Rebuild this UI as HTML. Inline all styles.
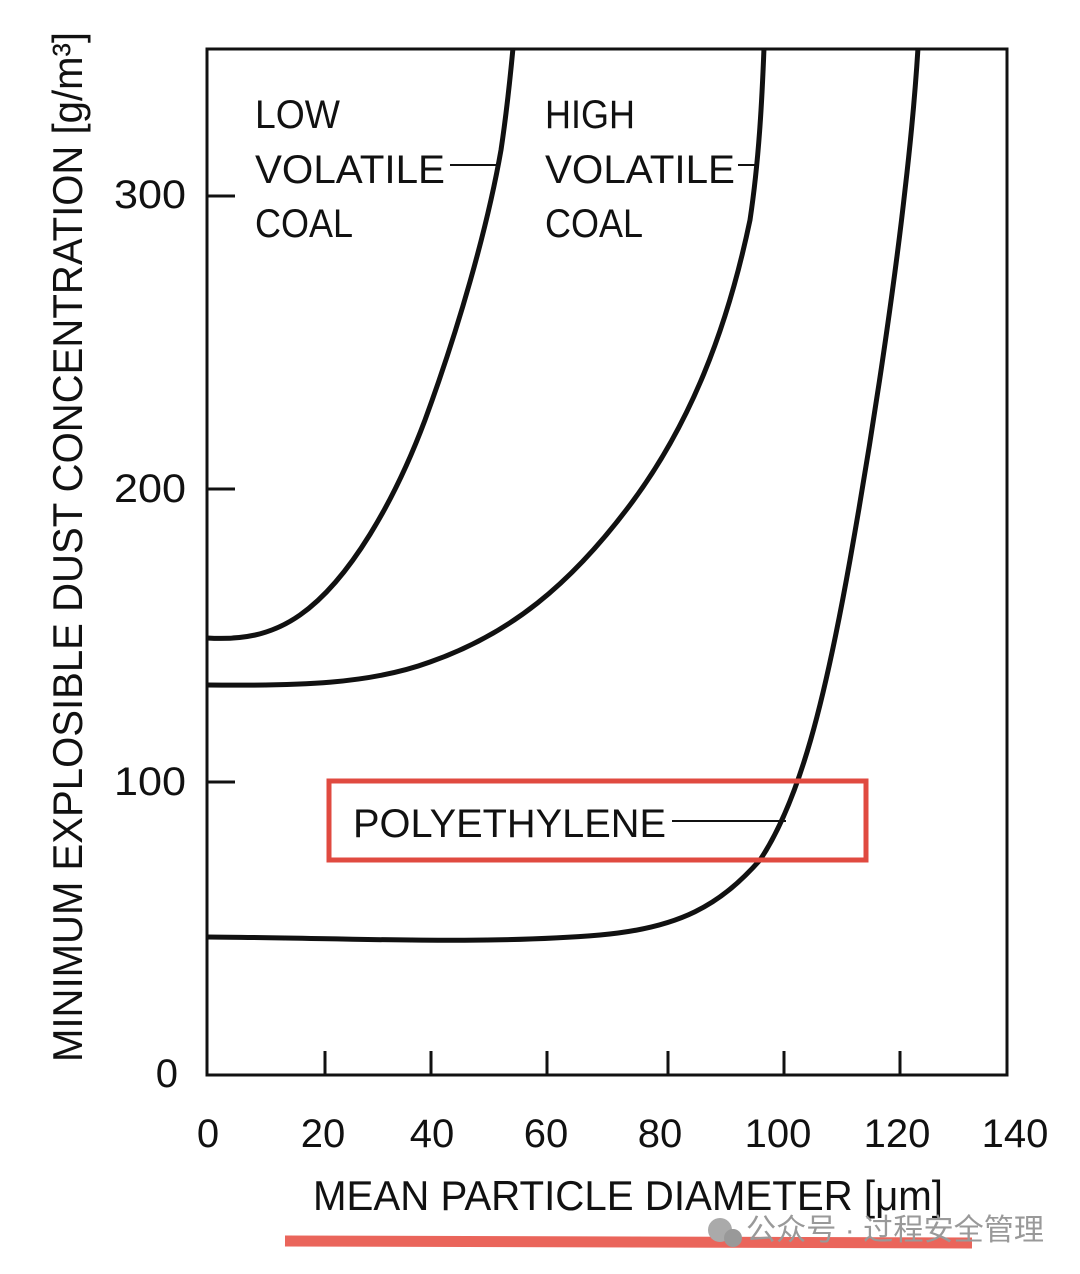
<!DOCTYPE html>
<html><head><meta charset="utf-8"><style>html,body{margin:0;padding:0;background:#fff}svg{display:block}</style></head>
<body>
<svg width="1080" height="1274" viewBox="0 0 1080 1274" xmlns="http://www.w3.org/2000/svg" font-family="'Liberation Sans Narrow','Liberation Sans',sans-serif" fill="#111">
<rect x="207" y="49" width="800" height="1026" fill="none" stroke="#111" stroke-width="3"/>
<g stroke="#111" stroke-width="3">
<line x1="207" y1="196" x2="235" y2="196"/><line x1="207" y1="489" x2="235" y2="489"/><line x1="207" y1="782" x2="235" y2="782"/>
<line x1="325" y1="1075" x2="325" y2="1051"/><line x1="431" y1="1075" x2="431" y2="1051"/><line x1="547" y1="1075" x2="547" y2="1051"/><line x1="668" y1="1075" x2="668" y2="1051"/><line x1="784" y1="1075" x2="784" y2="1051"/><line x1="900" y1="1075" x2="900" y2="1051"/>
</g>
<g fill="none" stroke="#111" stroke-width="5">
<path d="M207,638 C240,640 270,636 300,615 C350,580 395,500 425,420 C458,330 487,230 501,150 C507,110 510,80 513,48"/>
<path d="M207,685 C300,686 370,684 430,662 C510,634 570,585 630,505 C690,425 727,330 750,220 C759,160 762,100 764,48"/>
<path d="M207,937 C350,938 480,945 600,935 C680,928 720,905 760,860 C800,800 825,700 850,560 C875,420 895,280 905,190 C912,130 916,80 918,48"/>
</g>
<g stroke="#111" stroke-width="2">
<line x1="450" y1="165" x2="500" y2="165"/><line x1="738" y1="165" x2="757" y2="165"/><line x1="672" y1="821" x2="786" y2="821"/>
</g>
<g font-size="40">
<text x="255" y="128" textLength="85" lengthAdjust="spacingAndGlyphs">LOW</text>
<text x="255" y="183" textLength="190" lengthAdjust="spacingAndGlyphs">VOLATILE</text>
<text x="255" y="237" textLength="98" lengthAdjust="spacingAndGlyphs">COAL</text>
<text x="545" y="128" textLength="90" lengthAdjust="spacingAndGlyphs">HIGH</text>
<text x="545" y="183" textLength="190" lengthAdjust="spacingAndGlyphs">VOLATILE</text>
<text x="545" y="237" textLength="98" lengthAdjust="spacingAndGlyphs">COAL</text>
<text x="353" y="837" textLength="313" lengthAdjust="spacingAndGlyphs">POLYETHYLENE</text>
</g>
<rect x="329" y="781" width="537" height="79" fill="none" stroke="#e04a40" stroke-width="5"/>
<g font-size="40" text-anchor="end">
<text x="186" y="208" textLength="72" lengthAdjust="spacingAndGlyphs">300</text>
<text x="186" y="502" textLength="72" lengthAdjust="spacingAndGlyphs">200</text>
<text x="186" y="795" textLength="72" lengthAdjust="spacingAndGlyphs">100</text>
<text x="178" y="1087">0</text>
</g>
<g font-size="40" text-anchor="middle">
<text x="208" y="1147">0</text><text x="323" y="1147">20</text><text x="432" y="1147">40</text><text x="546" y="1147">60</text><text x="660" y="1147">80</text><text x="778" y="1147">100</text><text x="897" y="1147">120</text><text x="1015" y="1147">140</text>
</g>
<text x="313" y="1210" font-size="42" textLength="630" lengthAdjust="spacingAndGlyphs">MEAN PARTICLE DIAMETER [μm]</text>
<text transform="translate(82,1062) rotate(-90)" font-size="42" textLength="1030" lengthAdjust="spacingAndGlyphs">MINIMUM EXPLOSIBLE DUST CONCENTRATION [g/m³]</text>
<line x1="285" y1="1241" x2="972" y2="1243" stroke="#e8554a" stroke-width="11" opacity="0.9"/>
<circle cx="720" cy="1230" r="12" fill="#aaa"/><circle cx="733" cy="1238" r="9" fill="#999"/>
<text x="746" y="1240" font-size="30" fill="#999" font-family="'Liberation Sans','Noto Sans CJK SC',sans-serif" textLength="298" lengthAdjust="spacingAndGlyphs">公众号 · 过程安全管理</text>
</svg>
</body></html>
